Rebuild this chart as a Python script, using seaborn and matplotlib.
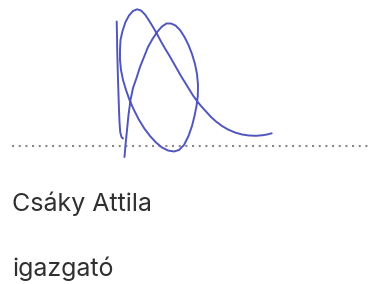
import matplotlib
matplotlib.use("Agg")
import matplotlib.pyplot as plt
import seaborn as sns
import pandas as pd

# Signature strokes (pixel coords, y grows downward)
stroke_a_x = [116.7, 117.0, 117.2, 117.6, 118.0, 118.5, 119.0, 119.5, 120.2, 121.5, 123.0]
stroke_a_y = [21.5, 35.0, 50.0, 65.0, 80.0, 95.0, 110.0, 122.0, 132.0, 137.0, 138.5]

stroke_b_x = [124.5, 125.5, 127.0, 128.5, 130.5, 133.0, 136.5, 140.0, 144.0, 148.0,
              152.5, 157.5, 162.0, 166.5, 171.0, 175.5, 180.0, 184.5, 188.5, 192.0,
              195.0, 197.0, 198.0, 197.8, 196.5, 194.5, 192.0, 188.5, 184.0, 179.0,
              174.0, 168.0, 162.0, 156.0, 150.0, 144.0, 138.5, 133.5, 129.5, 126.0,
              123.0, 121.0, 120.0, 120.0, 120.5, 122.5, 125.5, 129.0, 133.0, 137.0,
              141.0, 145.0, 149.0, 153.0, 157.0, 161.0, 165.0, 169.0, 173.0, 177.0,
              181.0, 185.0, 189.0, 193.0, 197.0, 201.0, 206.0, 211.0, 216.0, 222.0,
              228.0, 235.0, 242.0, 249.0, 256.0, 263.0, 268.0, 271.7]
stroke_b_y = [157.0, 145.0, 130.0, 115.0, 100.0, 88.0, 78.0, 67.0, 57.0, 47.0,
              39.0, 31.5, 26.5, 23.5, 23.5, 25.5, 30.0, 37.0, 45.0, 54.0,
              64.0, 74.0, 85.0, 96.0, 106.0, 116.0, 126.0, 136.0, 145.0, 150.0,
              151.5, 150.5, 147.5, 142.5, 136.0, 128.0, 119.0, 109.0, 100.0, 90.0,
              80.0, 70.0, 60.0, 50.0, 40.0, 31.0, 22.0, 15.5, 11.0, 9.3,
              10.5, 14.5, 20.5, 27.0, 34.0, 41.5, 48.5, 55.0, 62.0, 69.0,
              76.0, 82.5, 89.0, 95.5, 101.0, 106.0, 111.5, 117.0, 121.5, 126.0,
              129.5, 132.5, 134.5, 135.5, 135.8, 135.2, 134.3, 133.3]

line_x = [12, 371]
line_y = [146, 146]

name_text = "Csáky Attila"
title_text = "igazgató"

sig = pd.concat([
    pd.DataFrame({"x": stroke_a_x, "y": stroke_a_y, "stroke": "a"}),
    pd.DataFrame({"x": stroke_b_x, "y": stroke_b_y, "stroke": "b"}),
])

sns.set_style("white")
fig = plt.figure(figsize=(3.73, 2.84), dpi=100)
ax = fig.add_axes([0, 0, 1, 1])

# dotted signature line
sns.lineplot(x=line_x, y=line_y, ax=ax, color="#8a8a8a", lw=1.5,
             linestyle=(0, (1, 2.2)))

sns.lineplot(data=sig, x="x", y="y", units="stroke", estimator=None, sort=False,
             ax=ax, color="#5056bd", lw=1.4, legend=False)

ax.text(12, 210.5, name_text, fontsize=18, family="Inter",
        color="#303030", va="baseline", ha="left")
ax.text(12, 276, title_text, fontsize=18, family="Inter",
        color="#303030", va="baseline", ha="left")

ax.set_xlim(0, 373)
ax.set_ylim(284, 0)
ax.axis("off")
fig.savefig("out.png", dpi=100, facecolor="white")
